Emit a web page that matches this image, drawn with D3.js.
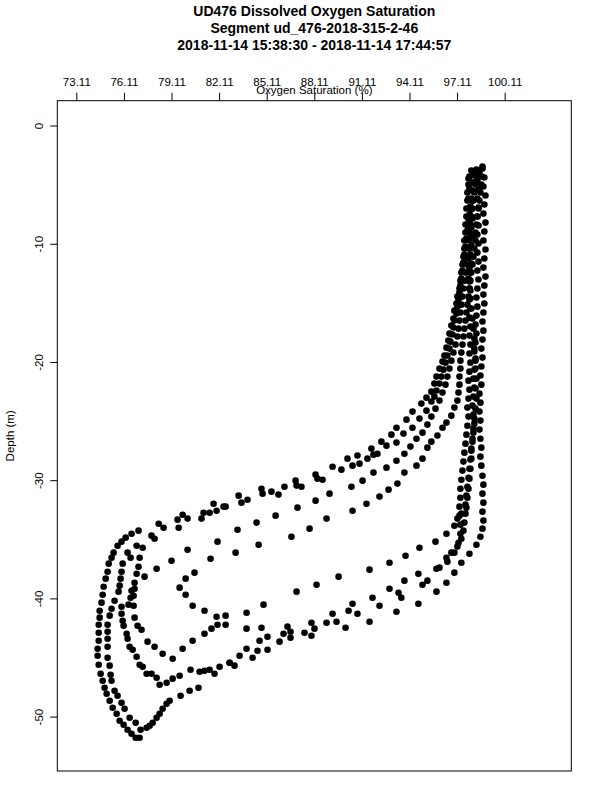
<!DOCTYPE html>
<html><head><meta charset="utf-8">
<script src="https://cdn.jsdelivr.net/npm/d3@7"></script>
<style>
body{margin:0;background:#fff}
svg{display:block}
text{font-family:"Liberation Sans",Arial,Helvetica,sans-serif;fill:#000}
</style>
</head><body>
<svg id="chart" width="600" height="800"></svg>
<script>
// ---------- text ----------
const titleLines = [
  "UD476 Dissolved Oxygen Saturation",
  "Segment ud_476-2018-315-2-46",
  "2018-11-14 15:38:30 - 2018-11-14 17:44:57"
];
const xLabel = "Oxygen Saturation (%)";
const yLabel = "Depth (m)";
const xTicks = [73.11, 76.11, 79.11, 82.11, 85.11, 88.11, 91.11, 94.11, 97.11, 100.11];
const yTicks = [0, -10, -20, -30, -40, -50];
const xLimits = [73.11, 103.11];
const yLimits = [-52.5, 0];

// ---------- data: [oxygen saturation %, depth m] per cast ----------
const descentA = [[98.71,-3.64],[98.83,-4.40],[98.77,-5.16],[98.90,-5.92],[98.83,-6.68],[98.77,-7.45],[98.90,-8.21],[98.83,-8.97],[98.77,-9.73],[98.90,-10.49],[98.83,-11.25],[98.77,-12.02],[98.90,-12.78],[98.83,-13.54],[98.77,-14.30],[98.83,-15.06],[98.77,-15.82],[98.71,-16.58],[98.77,-17.35],[98.71,-18.11],[98.64,-18.87],[98.71,-19.63],[98.64,-20.39],[98.58,-21.15],[98.64,-21.92],[98.52,-22.68],[98.58,-23.44],[98.52,-24.20],[98.58,-24.96],[98.52,-25.72],[98.58,-26.49],[98.64,-27.25],[98.58,-28.01],[98.64,-28.77],[98.71,-29.62],[98.77,-30.38],[98.71,-31.14],[98.77,-31.90],[98.71,-32.66],[98.77,-33.42],[98.71,-34.10],[98.58,-34.78],[98.33,-35.46],[97.89,-36.22],[97.38,-36.98],[96.94,-37.82],[96.44,-38.67],[95.81,-39.43],[94.67,-40.45],[93.29,-41.13],[91.59,-41.97],[90.08,-42.48],[87.93,-43.16],[86.61,-43.33],[85.92,-43.66],[85.16,-44.34],[84.53,-44.43],[84.22,-45.02],[83.08,-45.69],[82.77,-45.44],[81.82,-46.37],[81.19,-46.12],[80.81,-47.56],[80.25,-47.81],[79.68,-48.23],[78.99,-48.66],[78.80,-48.91],[78.55,-49.33],[78.36,-49.76],[78.17,-50.09],[77.92,-50.52],[77.73,-50.77],[77.54,-50.94],[77.16,-51.11],[77.10,-51.79],[76.85,-51.79]];

const ascentA = [[76.59,-51.45],[76.34,-51.11],[76.09,-50.69],[75.84,-50.35],[75.65,-49.76],[75.40,-49.25],[75.21,-48.66],[75.02,-48.06],[74.89,-47.56],[74.77,-46.96],[74.64,-46.37],[74.52,-45.61],[74.45,-44.85],[74.45,-44.26],[74.52,-43.58],[74.52,-42.90],[74.52,-42.23],[74.58,-41.63],[74.58,-41.04],[74.70,-40.36],[74.77,-39.69],[74.83,-39.01],[74.96,-38.33],[75.08,-37.74],[75.15,-37.06],[75.33,-36.56],[75.46,-36.13],[75.71,-35.54],[75.96,-35.20],[76.22,-34.86],[76.59,-34.53],[77.03,-34.27],[78.30,-33.68],[79.49,-33.34],[79.81,-32.92],[81.13,-32.75],[81.76,-31.99],[82.39,-32.24],[83.34,-31.31],[84.78,-30.72],[86.23,-30.55],[86.93,-30.04],[88.19,-29.53],[89.26,-28.86],[90.20,-28.18],[90.83,-27.92],[91.71,-27.33],[92.34,-26.74],[92.97,-26.15],[93.29,-25.56],[93.92,-24.88],[94.30,-24.20],[94.86,-23.52],[95.18,-23.02],[95.49,-22.51],[95.68,-21.83],[95.81,-21.24],[96.00,-20.56],[96.19,-19.97],[96.31,-19.46],[96.44,-18.79],[96.56,-18.19],[96.63,-17.60],[96.75,-16.92],[96.88,-16.33],[96.94,-15.66],[97.07,-15.06],[97.13,-14.47],[97.26,-13.79],[97.32,-13.12],[97.38,-12.44],[97.45,-11.76],[97.51,-11.09],[97.57,-10.41],[97.57,-9.73],[97.64,-9.05],[97.64,-8.38],[97.70,-7.70],[97.70,-7.02],[97.76,-6.35],[97.76,-5.67],[97.83,-4.99],[97.89,-4.31],[98.01,-3.81]];

const ascentB = [[76.85,-50.52],[76.47,-50.09],[76.15,-49.33],[75.96,-48.83],[75.71,-48.23],[75.52,-47.81],[75.33,-46.96],[75.27,-46.46],[75.21,-45.69],[75.08,-45.02],[75.08,-44.09],[75.08,-43.41],[75.08,-42.82],[75.08,-42.23],[75.21,-41.46],[75.33,-40.87],[75.52,-40.20],[75.77,-39.43],[75.84,-38.92],[75.90,-38.33],[75.96,-37.74],[76.03,-37.06],[76.34,-36.13],[76.53,-36.56],[76.91,-35.54],[77.29,-35.71],[77.85,-34.69],[78.04,-34.95],[78.61,-34.02],[79.56,-34.02],[80.12,-33.25],[81.00,-33.25],[81.51,-32.75],[81.95,-32.58],[82.52,-32.24],[83.52,-31.90],[83.90,-31.65],[84.85,-31.14],[85.41,-30.97],[85.85,-31.22],[86.99,-30.46],[87.30,-30.55],[88.31,-29.87],[88.63,-29.96],[89.82,-29.11],[90.52,-28.77],[90.96,-28.60],[91.46,-28.18],[91.84,-27.84],[92.09,-27.76],[92.66,-27.08],[93.29,-26.82],[93.73,-26.06],[94.30,-25.56],[94.74,-24.79],[95.18,-24.12],[95.49,-23.35],[95.68,-22.93],[95.81,-22.42],[96.00,-21.83],[96.12,-21.24],[96.25,-20.65],[96.38,-20.06],[96.50,-19.46],[96.63,-18.87],[96.69,-18.28],[96.82,-17.68],[96.88,-17.09],[96.94,-16.50],[97.07,-15.91],[97.13,-15.32],[97.20,-14.72],[97.26,-14.13],[97.32,-13.54],[97.38,-12.95],[97.45,-12.27],[97.51,-11.59],[97.57,-10.92],[97.64,-10.24],[97.70,-9.56],[97.76,-8.89],[97.83,-8.21],[97.89,-7.53],[97.95,-6.85],[98.01,-6.18],[98.08,-5.50],[98.14,-4.82],[98.20,-4.23],[98.33,-3.72]];

const descentB = [[98.33,-3.89],[98.39,-4.65],[98.46,-5.42],[98.39,-6.18],[98.46,-6.94],[98.39,-7.70],[98.46,-8.46],[98.39,-9.22],[98.46,-9.98],[98.39,-10.75],[98.46,-11.51],[98.39,-12.27],[98.46,-13.03],[98.39,-13.79],[98.33,-14.55],[98.39,-15.32],[98.33,-16.08],[98.27,-16.84],[98.33,-17.60],[98.27,-18.36],[98.20,-19.12],[98.27,-19.89],[98.20,-20.65],[98.14,-21.41],[98.20,-22.17],[98.14,-22.93],[98.08,-23.69],[98.14,-24.45],[98.20,-25.22],[98.14,-25.98],[98.08,-26.74],[98.01,-27.50],[97.95,-28.26],[97.89,-29.03],[97.83,-29.79],[97.76,-30.55],[97.70,-31.31],[97.64,-32.07],[97.64,-32.83],[97.57,-33.59],[97.51,-34.27],[97.38,-34.95],[97.13,-35.62],[96.75,-36.13],[96.44,-36.56],[96.00,-37.40],[95.24,-38.50],[94.93,-38.84],[93.60,-39.94],[93.42,-39.52],[92.22,-40.62],[90.83,-41.30],[90.27,-41.04],[89.51,-41.97],[88.88,-42.06],[88.12,-42.56],[87.49,-42.90],[86.61,-42.82],[86.17,-42.99],[85.16,-43.24],[84.66,-43.58],[83.84,-44.26],[83.40,-44.85],[82.77,-45.44],[82.14,-45.78],[81.51,-46.03],[80.88,-46.20],[80.31,-46.03],[79.62,-46.54],[79.18,-46.79],[78.80,-47.13],[78.36,-47.30]];

const ascentC = [[78.17,-46.71],[77.85,-46.37],[77.54,-46.37],[77.29,-45.78],[77.10,-45.61],[76.91,-44.93],[76.66,-44.34],[76.47,-44.09],[76.34,-43.41],[76.28,-42.99],[76.09,-42.31],[76.03,-41.89],[75.96,-41.30],[75.96,-40.70],[76.40,-40.53],[76.53,-39.94],[76.59,-39.35],[76.78,-38.67],[77.41,-38.16],[78.17,-37.49],[79.11,-36.81],[80.12,-35.88],[82.01,-35.20],[83.27,-34.19],[84.47,-33.59],[85.67,-33.00],[87.05,-32.32],[88.19,-31.73],[89.07,-31.14],[90.45,-30.55],[91.15,-30.04],[91.84,-29.36],[92.66,-28.94],[93.29,-28.35],[93.79,-27.76],[94.17,-27.16],[94.55,-26.49],[94.93,-25.98],[95.24,-25.30],[95.49,-24.62],[95.75,-23.95],[96.00,-23.27],[96.19,-22.59],[96.38,-21.92],[96.50,-21.24],[96.63,-20.56],[96.75,-19.89],[96.88,-19.21],[97.01,-18.53],[97.13,-17.85],[97.20,-17.18],[97.26,-16.50],[97.32,-15.82],[97.38,-15.15],[97.45,-14.47],[97.51,-13.79],[97.57,-13.12],[97.64,-12.44],[97.70,-11.76],[97.76,-11.09],[97.83,-10.41],[97.89,-9.73],[97.89,-9.05],[97.95,-8.38],[98.01,-7.70],[98.08,-7.02],[98.14,-6.35],[98.20,-5.67],[98.27,-4.99],[98.39,-4.40],[98.52,-3.98]];

const descentC = [[98.14,-4.06],[98.08,-4.82],[98.14,-5.58],[98.08,-6.35],[98.01,-7.11],[98.08,-7.87],[98.01,-8.63],[98.08,-9.39],[98.01,-10.15],[97.95,-10.92],[98.01,-11.68],[97.95,-12.44],[97.89,-13.20],[97.95,-13.96],[97.89,-14.72],[97.95,-15.48],[97.89,-16.25],[97.95,-17.01],[97.89,-17.77],[97.95,-18.53],[97.89,-19.29],[97.95,-20.06],[97.89,-20.82],[97.83,-21.58],[97.89,-22.34],[97.83,-23.10],[97.76,-23.86],[97.83,-24.62],[97.76,-25.39],[97.70,-26.15],[97.64,-26.91],[97.57,-27.67],[97.51,-28.43],[97.45,-29.19],[97.38,-29.96],[97.32,-30.72],[97.32,-31.48],[97.26,-32.24],[97.26,-33.00],[97.32,-33.76],[97.32,-34.53],[97.20,-35.29],[96.94,-36.13],[96.50,-36.89],[95.81,-37.49],[94.67,-37.91],[93.79,-38.50],[92.85,-39.18],[91.78,-39.94],[90.52,-40.45],[89.26,-41.30],[87.93,-42.06],[86.42,-42.39],[84.78,-42.48],[83.84,-42.56],[82.52,-42.23],[82.01,-42.23],[81.63,-42.56],[81.19,-42.99],[80.44,-43.58],[79.81,-44.26],[79.18,-45.10]];

const ascentD = [[78.55,-44.68],[78.04,-44.09],[77.60,-43.66],[77.22,-42.65],[76.97,-42.31],[76.78,-41.63],[76.72,-40.62],[76.72,-39.77],[76.78,-39.18],[76.91,-37.91],[77.03,-37.32],[77.10,-36.56]];

const descentD = [[97.83,-4.48],[97.89,-5.33],[97.83,-6.18],[97.89,-7.02],[97.83,-7.87],[97.89,-8.72],[97.83,-9.56],[97.89,-10.41],[97.83,-11.25],[97.89,-12.10],[97.83,-12.95],[97.89,-13.79],[97.95,-14.64],[98.01,-15.48],[98.08,-16.33],[98.14,-17.18],[98.20,-18.02],[98.20,-18.87],[98.27,-19.72],[98.27,-20.56],[98.33,-21.41],[98.27,-22.25],[98.33,-23.10],[98.27,-23.95],[98.20,-24.79],[98.14,-25.64],[98.08,-26.49],[98.01,-27.33],[98.01,-28.18],[97.95,-29.03],[97.89,-29.87],[97.83,-30.72],[97.76,-31.48],[97.70,-32.32],[97.38,-32.83],[97.13,-33.25],[96.94,-33.85],[96.44,-34.53],[95.75,-35.20],[94.74,-35.71],[93.86,-36.39],[92.85,-36.98],[91.59,-37.57],[89.64,-38.16],[88.25,-38.84],[86.99,-39.43],[84.91,-40.53],[83.84,-41.21],[82.52,-41.46],[81.95,-41.55],[81.19,-41.04],[80.44,-40.62],[80.00,-39.69],[79.62,-39.09]];

const ascentE = [[80.00,-38.33],[80.56,-37.82],[81.57,-36.64],[83.15,-36.13],[84.60,-35.46],[86.67,-34.78],[87.81,-34.10],[88.88,-33.25],[90.52,-32.58],[91.40,-31.99],[92.22,-31.39],[92.79,-30.80],[93.35,-30.29],[93.79,-29.36],[94.55,-28.77],[94.93,-28.18],[95.24,-27.25],[95.49,-26.74],[95.87,-26.23],[96.19,-25.56],[96.44,-25.13],[96.75,-24.54],[96.94,-23.86],[97.13,-23.27],[97.20,-22.59],[97.26,-21.92],[97.26,-21.24],[97.32,-20.56],[97.32,-19.89],[97.38,-19.21],[97.45,-18.53],[97.51,-17.85],[97.57,-17.18],[97.64,-16.50],[97.70,-15.82],[97.76,-15.15],[97.83,-14.47],[97.89,-13.79],[97.95,-13.12],[98.01,-12.44],[98.08,-11.76],[98.14,-11.09],[98.20,-10.41],[98.27,-9.73],[98.27,-9.05],[98.33,-8.38],[98.39,-7.70],[98.46,-7.02],[98.52,-6.35],[98.58,-5.67],[98.64,-4.99],[98.64,-4.31],[98.71,-3.47]];

const casts = [descentA, ascentA, ascentB, descentB, ascentC, descentC, ascentD, descentD, ascentE];
const points = casts.flat();

// ---------- chart ----------
const W = 600, H = 800;
const plot = {left: 57.3, right: 571.3, top: 100.7, bottom: 771};
const pad = f => (f[1] - f[0]) * 0.04;
const x = d3.scaleLinear()
  .domain([xLimits[0] - pad(xLimits), xLimits[1] + pad(xLimits)])
  .range([plot.left, plot.right]);
const y = d3.scaleLinear()
  .domain([yLimits[0] - pad(yLimits), yLimits[1] + pad(yLimits)])
  .range([plot.bottom, plot.top]);

const svg = d3.select("#chart");
svg.append("rect").attr("width", W).attr("height", H).attr("fill", "#fff");

// titles
svg.append("g").selectAll("text").data(titleLines).join("text")
  .attr("x", (plot.left + plot.right) / 2)
  .attr("y", (d, i) => 16 + i * 17)
  .attr("text-anchor", "middle")
  .attr("font-size", "14px")
  .attr("font-weight", "bold")
  .text(d => d);

// top axis
const xAxis = svg.append("g")
  .attr("transform", `translate(0,${plot.top})`)
  .call(d3.axisTop(x).tickValues(xTicks).tickSize(8).tickPadding(7).tickFormat(d3.format(".2f")));
xAxis.select(".domain").remove();
xAxis.selectAll("line").attr("stroke", "#000");
xAxis.selectAll("text").attr("font-size", "11.5px").attr("font-family", "Liberation Sans, Arial, sans-serif").attr("fill", "#000");

svg.append("text")
  .attr("x", (plot.left + plot.right) / 2)
  .attr("y", 93.5)
  .attr("text-anchor", "middle")
  .attr("font-size", "11.5px")
  .text(xLabel);

// left axis
const yAxis = svg.append("g")
  .attr("transform", `translate(${plot.left},0)`)
  .call(d3.axisLeft(y).tickValues(yTicks).tickSize(7).tickFormat(d => d3.format("d")(d).replace("\u2212", "-")));
yAxis.select(".domain").remove();
yAxis.selectAll("line").attr("stroke", "#000");
yAxis.selectAll("text")
  .attr("font-size", "11.5px")
  .attr("font-family", "Liberation Sans, Arial, sans-serif")
  .attr("fill", "#000")
  .attr("text-anchor", "middle")
  .attr("x", null).attr("dy", null)
  .attr("transform", "translate(-14,0) rotate(-90)");

svg.append("text")
  .attr("transform", `translate(14,${(plot.top + plot.bottom) / 2}) rotate(-90)`)
  .attr("text-anchor", "middle")
  .attr("font-size", "11.5px")
  .text(yLabel);

// box
svg.append("rect")
  .attr("x", plot.left).attr("y", plot.top)
  .attr("width", plot.right - plot.left).attr("height", plot.bottom - plot.top)
  .attr("fill", "none").attr("stroke", "#000").attr("stroke-width", 1);

// points
svg.append("g").selectAll("circle").data(points).join("circle")
  .attr("cx", d => x(d[0]))
  .attr("cy", d => y(d[1]))
  .attr("r", 3.3)
  .attr("fill", "#000");
</script>
</body></html>
